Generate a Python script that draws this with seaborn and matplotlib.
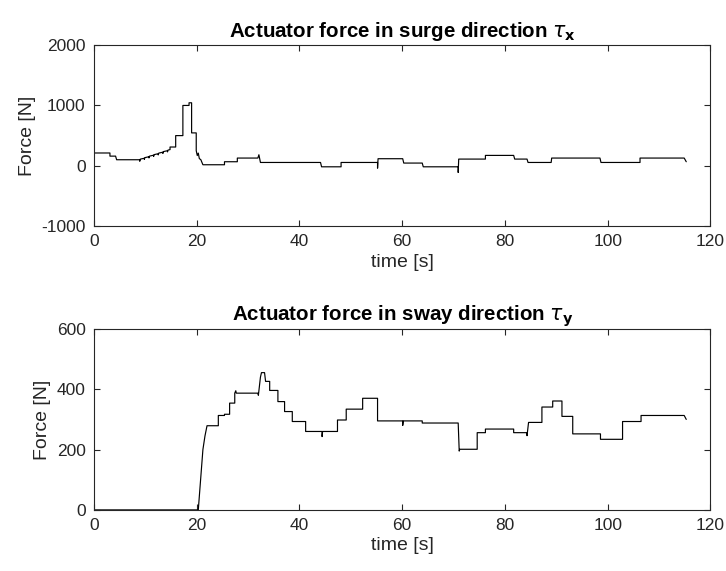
import numpy as np
import pandas as pd
import matplotlib.pyplot as plt
import seaborn as sns

# surge force tau_x (time [s], force [N])
surge_t = [0, 3.1, 3.1, 4.2, 4.4, 8.9, 8.9, 9.0, 9.8, 9.8, 9.9, 10.7, 10.7, 10.8,
           11.6, 11.6, 11.7, 12.5, 12.5, 12.6, 13.4, 13.4, 13.5, 14.3, 14.3, 14.4,
           14.8, 14.8, 15.9, 15.9, 17.3, 17.3, 18.5, 18.5, 19.0, 19.0, 19.9, 19.9,
           20.1, 20.3, 20.5, 20.8, 21.2, 25.4, 25.4, 27.9, 27.9, 31.9, 32.1, 32.4,
           44.1, 44.3, 48.1, 48.1, 55.2, 55.2, 55.3, 60.1, 60.3, 63.9, 64.1, 70.9,
           70.9, 71.0, 76.2, 76.2, 81.7, 81.9, 84.3, 84.5, 89.0, 89.1, 98.5, 98.7,
           106.3, 106.3, 114.9, 115.3]
surge_f = [212, 212, 160, 160, 100, 100, 75, 110, 125, 105, 135, 150, 130, 160,
           175, 155, 185, 200, 180, 210, 225, 205, 235, 250, 230, 260,
           268, 311, 311, 500, 500, 1000, 1000, 1044, 1044, 545, 545, 250,
           170, 210, 120, 100, 17, 17, 67, 67, 128, 128, 183, 55,
           55, -17, -17, 55, 55, -40, 117, 117, 45, 45, -17, -17,
           -111, 111, 111, 172, 172, 111, 111, 55, 55, 128, 128, 55,
           55, 128, 128, 67]

# sway force tau_y
sway_t = [0, 20.3, 21.2, 21.6, 22.0, 24.2, 24.2, 25.4, 25.4, 26.4, 26.4, 27.4, 27.4,
          27.6, 27.7, 31.9, 32.0, 32.4, 32.6, 33.2, 33.4, 34.2, 34.2, 35.8, 35.8,
          37.1, 37.1, 38.6, 38.6, 41.2, 41.2, 44.4, 44.4, 44.5, 47.4, 47.4, 49.1,
          49.1, 52.3, 52.3, 55.2, 55.2, 60.1, 60.1, 60.2, 63.9, 63.9, 70.9, 71.1,
          71.2, 74.6, 74.6, 76.2, 76.2, 81.7, 81.7, 84.3, 84.3, 84.6, 87.2, 87.2,
          89.3, 89.3, 91.1, 91.1, 93.2, 93.2, 98.6, 98.6, 102.9, 102.9, 106.5,
          106.5, 114.9, 115.3]
sway_f = [0, 0, 200, 245, 279, 279, 313, 313, 317, 317, 354, 354, 387,
          395, 387, 387, 380, 440, 455, 455, 426, 426, 396, 396, 359,
          359, 326, 326, 293, 293, 260, 260, 243, 260, 260, 298, 298,
          334, 334, 370, 370, 295, 295, 280, 295, 295, 288, 288, 195,
          201, 201, 256, 256, 268, 268, 256, 256, 246, 290, 290, 341,
          341, 361, 361, 310, 310, 252, 252, 234, 234, 293, 293,
          313, 313, 300]

sns.set_theme(style='ticks')
plt.rcParams['font.family'] = ['Liberation Sans', 'DejaVu Sans']
plt.rcParams['mathtext.fontset'] = 'dejavusans'
plt.rcParams['axes.unicode_minus'] = False
dark = '#262626'

fig = plt.figure(figsize=(7.26, 5.71), dpi=100)
ax1 = fig.add_axes([0.1295, 0.604, 0.849, 0.317])
ax2 = fig.add_axes([0.1295, 0.107, 0.849, 0.317])

panels = [
    (ax1, surge_t, surge_f, r'Actuator force in surge direction $\tau_{\mathbf{x}}$',
     (-1000, 2000), [-1000, 0, 1000, 2000]),
    (ax2, sway_t, sway_f, r'Actuator force in sway direction $\tau_{\mathbf{y}}$',
     (0, 600), [0, 200, 400, 600]),
]

for ax, t, f, title, ylim, yticks in panels:
    df = pd.DataFrame({'t': t, 'f': f})
    sns.lineplot(data=df, x='t', y='f', ax=ax, color='black', linewidth=0.85,
                 sort=False, estimator=None)
    ax.set_xlim(0, 120)
    ax.set_ylim(*ylim)
    ax.set_xticks(np.arange(0, 121, 20))
    ax.set_yticks(yticks)
    ax.tick_params(direction='in', top=True, right=True, length=4, width=0.8,
                   labelsize=12.5, colors=dark, pad=6)
    for sp in ax.spines.values():
        sp.set_visible(True)
        sp.set_color(dark)
        sp.set_linewidth(0.8)
    ax.set_xlabel('time [s]', fontsize=14, color=dark, labelpad=3)
    ax.set_ylabel('Force [N]', fontsize=14, color=dark, labelpad=4)
    ax.set_title(title, fontsize=14.8, fontweight='bold', color='black', pad=6)

fig.savefig('out.png', dpi=100)
